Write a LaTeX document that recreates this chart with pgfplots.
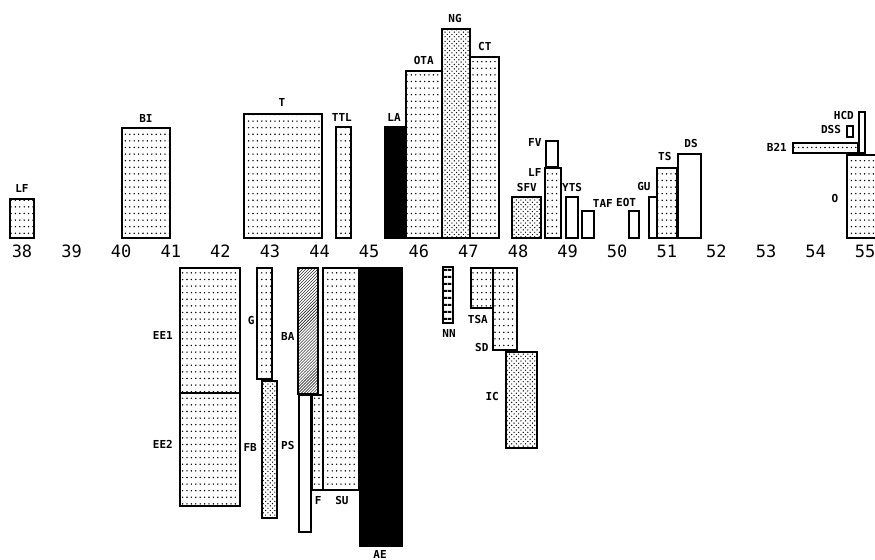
\documentclass[border=0pt]{standalone}
\usepackage{fontspec}
\setmonofont{DejaVu Sans Mono}
\usepackage{pgfplots}
\pgfplotsset{compat=1.18}
\usetikzlibrary{patterns}
\pgfdeclarepatternformonly{sparsedots}{\pgfqpoint{-1bp}{-1bp}}{\pgfqpoint{6bp}{8bp}}{\pgfqpoint{4.4bp}{6.6bp}}%
{\pgfpathcircle{\pgfqpoint{2.2bp}{3.3bp}}{0.8bp}\pgfusepath{fill}}
\pgfdeclarepatternformonly{densedots}{\pgfqpoint{-1bp}{-1bp}}{\pgfqpoint{6bp}{6bp}}{\pgfqpoint{4.6bp}{4.6bp}}%
{\pgfpathcircle{\pgfqpoint{1.15bp}{1.15bp}}{0.7bp}\pgfpathcircle{\pgfqpoint{3.45bp}{3.45bp}}{0.7bp}\pgfusepath{fill}}
\pgfdeclarepatternformonly{ladder}{\pgfqpoint{0bp}{0bp}}{\pgfqpoint{4bp}{7bp}}{\pgfqpoint{4bp}{7bp}}%
{\pgfpathrectangle{\pgfqpoint{0bp}{2.5bp}}{\pgfqpoint{4bp}{2bp}}\pgfusepath{fill}}
\newcommand{\bx}[5]{\addplot[draw=black, line width=2.2bp, #5] coordinates {(#1,#3) (#2,#3) (#2,#4) (#1,#4)} -- cycle;}
\tikzset{lbl/.style={font=\ttfamily\bfseries\fontsize{11bp}{11bp}\selectfont, inner sep=0pt}}
\begin{document}
\begin{tikzpicture}
\begin{axis}[
  name=ax,
  width=875bp, height=560bp, scale only axis,
  xmin=37.5565, xmax=55.1976, ymin=-320, ymax=240,
  axis x line=middle, axis y line=none,
  axis line style={draw=none},
  xtick={38,39,...,55}, ytick=\empty,
  major tick length=0pt,
  /pgf/number format/assume math mode=true,
  xticklabel style={font=\ttfamily\fontsize{17bp}{17bp}\selectfont, anchor=center, yshift=-11bp},
  clip=true,
]
% upper bars
\bx{37.76}{38.24}{2}{41}{pattern=sparsedots}
\bx{40.02}{40.98}{2}{112}{pattern=sparsedots}
\bx{42.48}{44.05}{2}{126}{pattern=sparsedots}
\bx{44.33}{44.63}{2}{113}{pattern=sparsedots}
\bx{45.32}{45.74}{2}{113}{fill=black}
\bx{45.74}{46.47}{2}{169}{pattern=sparsedots}
\bx{46.47}{47.03}{2}{211}{pattern=densedots}
\bx{47.03}{47.62}{2}{183}{pattern=sparsedots}
\bx{47.88}{48.46}{2}{43}{pattern=densedots}
\bx{48.54}{48.87}{2}{72}{pattern=sparsedots}
\bx{48.56}{48.81}{73}{99}{fill=white}
\bx{48.97}{49.21}{2}{43}{fill=white}
\bx{49.29}{49.53}{2}{29}{fill=white}
\bx{50.24}{50.44}{2}{29}{fill=white}
\bx{50.64}{50.80}{2}{43}{fill=white}
\bx{50.80}{51.21}{2}{72}{pattern=sparsedots}
\bx{51.23}{51.69}{2}{86}{fill=white}
\bx{53.54}{54.85}{87}{97}{pattern=sparsedots}
\bx{54.63}{54.75}{103}{114}{fill=white}
\bx{54.87}{55.00}{87}{128}{fill=white}
\bx{54.63}{55.30}{2}{85}{pattern=sparsedots}
% lower bars
\bx{41.19}{42.40}{-28}{-153}{pattern=sparsedots}
\bx{41.19}{42.40}{-153}{-266}{pattern=sparsedots}
\bx{42.74}{43.04}{-28}{-139}{pattern=sparsedots}
\bx{42.84}{43.14}{-141}{-278}{pattern=densedots}
\bx{43.56}{43.97}{-28}{-154}{pattern=north east lines}
\bx{43.58}{43.83}{-155}{-292}{fill=white}
\bx{43.85}{44.07}{-155}{-250}{pattern=sparsedots}
\bx{44.07}{44.79}{-28}{-250}{pattern=sparsedots}
\bx{44.81}{45.66}{-28}{-306}{fill=black}
\bx{46.49}{46.69}{-27}{-83}{pattern=ladder}
\bx{47.05}{47.50}{-28}{-68}{pattern=sparsedots}
\bx{47.50}{47.98}{-28}{-110}{pattern=sparsedots}
\bx{47.76}{48.38}{-112}{-208}{pattern=densedots}
% labels
\node[lbl] at (axis cs:38.0,51) {LF};
\node[lbl] at (axis cs:40.5,122) {BI};
\node[lbl] at (axis cs:43.24,137) {T};
\node[lbl] at (axis cs:44.45,122) {TTL};
\node[lbl] at (axis cs:45.5,122) {LA};
\node[lbl] at (axis cs:46.1,179) {OTA};
\node[lbl] at (axis cs:46.73,221) {NG};
\node[lbl] at (axis cs:47.33,193) {CT};
\node[lbl] at (axis cs:48.18,52) {SFV};
\node[lbl] at (axis cs:48.34,97) {FV};
\node[lbl] at (axis cs:48.34,67) {LF};
\node[lbl] at (axis cs:49.09,52) {YTS};
\node[lbl] at (axis cs:49.71,36) {TAF};
\node[lbl] at (axis cs:50.18,37) {EOT};
\node[lbl] at (axis cs:50.54,53) {GU};
\node[lbl] at (axis cs:50.96,83) {TS};
\node[lbl] at (axis cs:51.49,96) {DS};
\node[lbl] at (axis cs:53.22,93) {B21};
\node[lbl] at (axis cs:54.31,110) {DSS};
\node[lbl] at (axis cs:54.57,124) {HCD};
\node[lbl] at (axis cs:54.39,41) {O};
\node[lbl] at (axis cs:40.84,-96) {EE1};
\node[lbl] at (axis cs:40.84,-204) {EE2};
\node[lbl] at (axis cs:42.62,-81) {G};
\node[lbl] at (axis cs:42.60,-207) {FB};
\node[lbl] at (axis cs:43.36,-96) {BA};
\node[lbl] at (axis cs:43.36,-206) {PS};
\node[lbl] at (axis cs:43.97,-261) {F};
\node[lbl] at (axis cs:44.45,-261) {SU};
\node[lbl] at (axis cs:45.22,-314) {AE};
\node[lbl] at (axis cs:46.61,-94) {NN};
\node[lbl] at (axis cs:47.19,-80) {TSA};
\node[lbl] at (axis cs:47.27,-108) {SD};
\node[lbl] at (axis cs:47.48,-157) {IC};
\end{axis}
\pgfresetboundingbox
\path[use as bounding box] (ax.south west) rectangle (ax.north east);
\end{tikzpicture}
\end{document}
